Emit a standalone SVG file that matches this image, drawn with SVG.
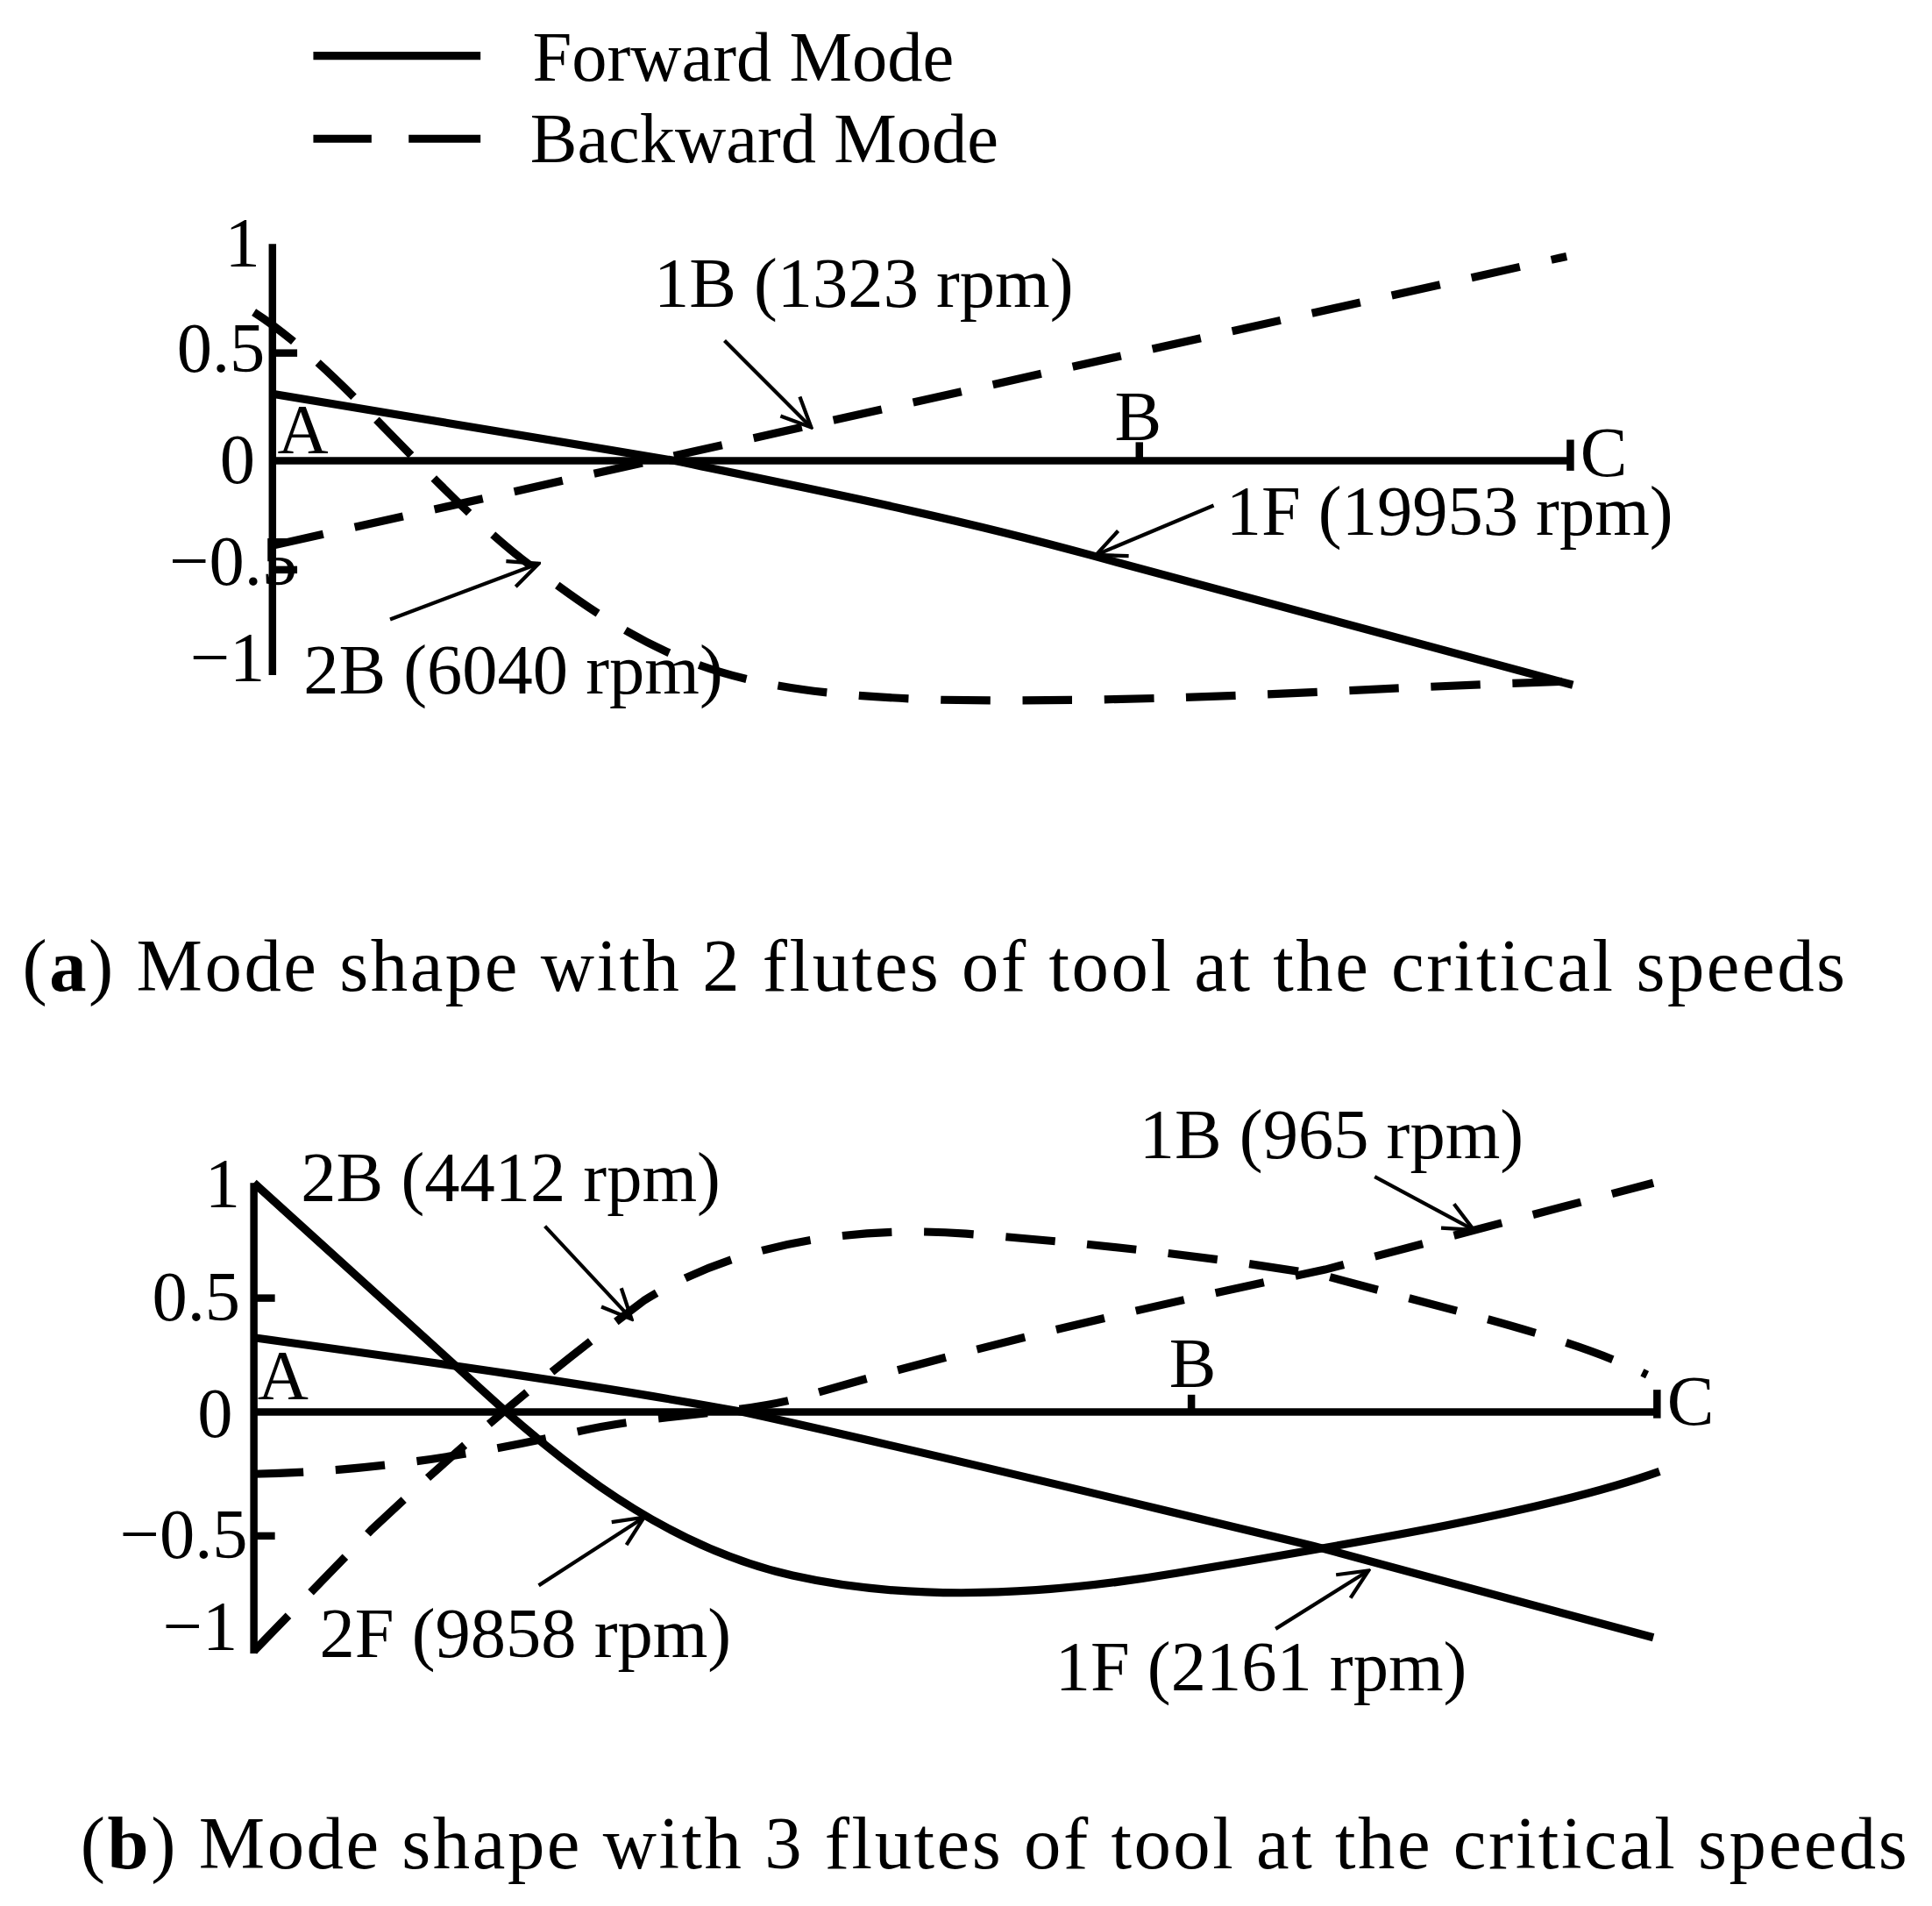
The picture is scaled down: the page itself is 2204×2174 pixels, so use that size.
<svg xmlns="http://www.w3.org/2000/svg" width="2204" height="2174" viewBox="0 0 2204 2174">
<defs>
<marker id="ah" markerWidth="28" markerHeight="26" refX="26" refY="13" orient="auto" markerUnits="userSpaceOnUse" viewBox="0 0 28 26">
<polyline points="2,2 26,13 2,24" fill="none" stroke="#000" stroke-width="3"/>
</marker>
</defs>
<style>
text{font-family:"Liberation Serif","Times New Roman",serif;fill:#000;font-size:57px}
.cap{font-size:60px}
.ax{stroke:#000;stroke-width:6;fill:none}
.sol{stroke:#000;stroke-width:6.5;fill:none}
.das{stroke:#000;stroke-width:6.5;fill:none;stroke-dasharray:40 26}
.arr{stroke:#000;stroke-width:3;fill:none;marker-end:url(#ah)}
</style>
<rect width="2204" height="2174" fill="#fff"/>
<g transform="scale(1.4128)">
<g id="legend">
<line x1="253" y1="45" x2="388" y2="45" class="sol"/>
<text x="430" y="65">Forward Mode</text>
<line x1="253" y1="112" x2="300" y2="112" class="sol"/>
<line x1="330" y1="112" x2="388" y2="112" class="sol"/>
<text x="428" y="131">Backward Mode</text>
</g>
<g id="plotA">
<g id="axesA">
<line x1="220" y1="197" x2="220" y2="545" class="ax"/>
<line x1="220" y1="372" x2="1270" y2="372" class="ax"/>
<line x1="920" y1="357" x2="920" y2="372" class="ax"/>
<line x1="1268" y1="355" x2="1268" y2="380" class="ax"/>
<line x1="220" y1="285" x2="240" y2="285" class="ax"/>
<line x1="220" y1="460" x2="240" y2="460" class="ax"/>
<text x="210" y="215" text-anchor="end">1</text>
<text x="214" y="300" text-anchor="end">0.5</text>
<text x="206" y="390" text-anchor="end">0</text>
<text x="240" y="472" text-anchor="end">−0.5</text>
<text x="214" y="550" text-anchor="end">−1</text>
<text x="224" y="366">A</text>
<text x="900" y="355">B</text>
<text x="1276" y="384">C</text>
</g>
<g id="curvesA">
<path class="sol" d="M220,318 L545,372 C640,392 760,415 880,448 L1270,553"/>
<path class="das" d="M222,440 L1265,207"/>
<path class="das" d="M205,252 C280,300 360,410 440,465 C540,540 600,560 760,565 C950,568 1100,555 1270,550"/>
</g>
<g id="labelsA">
<path class="arr" d="M585,275 L655,345"/>
<text x="528" y="248">1B (1323 rpm)</text>
<path class="arr" d="M980,408 L885,448"/>
<text x="990" y="432">1F (19953 rpm)</text>
<path class="arr" d="M315,500 L435,455"/>
<text x="245" y="560">2B (6040 rpm)</text>
</g>
</g>
<text class="cap" x="18" y="800" textLength="1472">(<tspan font-weight="bold">a</tspan>) Mode shape with 2 flutes of tool at the critical speeds</text>
<g id="plotB">
<g id="axesB">
<line x1="205" y1="955" x2="205" y2="1335" class="ax"/>
<line x1="205" y1="1140" x2="1340" y2="1140" class="ax"/>
<line x1="962" y1="1126" x2="962" y2="1140" class="ax"/>
<line x1="1338" y1="1122" x2="1338" y2="1145" class="ax"/>
<line x1="205" y1="1048" x2="222" y2="1048" class="ax"/>
<line x1="205" y1="1240" x2="222" y2="1240" class="ax"/>
<text x="194" y="975" text-anchor="end">1</text>
<text x="194" y="1066" text-anchor="end">0.5</text>
<text x="188" y="1160" text-anchor="end">0</text>
<text x="200" y="1258" text-anchor="end">−0.5</text>
<text x="192" y="1332" text-anchor="end">−1</text>
<text x="208" y="1130">A</text>
<text x="944" y="1120">B</text>
<text x="1346" y="1150">C</text>
</g>
<g id="curvesB">
<path class="sol" d="M205,955 L365,1100 C430,1160 520,1245 640,1272 C720,1290 820,1292 950,1270 C1100,1245 1250,1220 1340,1188"/>
<path class="sol" d="M205,1080 C350,1100 480,1118 600,1140 C760,1175 900,1210 1060,1248 L1335,1322"/>
<path class="das" d="M205,1333 L300,1235 C380,1160 440,1110 520,1050 C600,1000 700,990 780,996 C900,1005 1000,1018 1070,1030 C1180,1060 1270,1080 1330,1110"/>
<path class="das" d="M205,1190 C300,1188 380,1175 470,1155 C530,1142 590,1142 640,1130 C760,1095 900,1060 1070,1025 L1335,955"/>
</g>
<g id="labelsB">
<path class="arr" d="M440,990 L510,1065"/>
<text x="243" y="970">2B (4412 rpm)</text>
<path class="arr" d="M1110,950 L1190,993"/>
<text x="920" y="935">1B (965 rpm)</text>
<path class="arr" d="M435,1280 L520,1225"/>
<text x="258" y="1338">2F (9858 rpm)</text>
<path class="arr" d="M1030,1315 L1105,1268"/>
<text x="852" y="1365">1F (2161 rpm)</text>
</g>
</g>
<text class="cap" x="65" y="1508" textLength="1475">(<tspan font-weight="bold">b</tspan>) Mode shape with 3 flutes of tool at the critical speeds</text>
</g>
</svg>
